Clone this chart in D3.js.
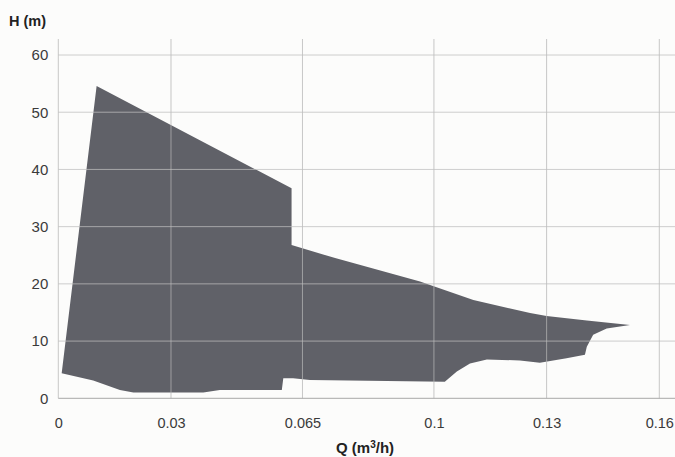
<!DOCTYPE html>
<html>
<head>
<meta charset="utf-8">
<script src="https://cdn.jsdelivr.net/npm/d3@7"></script>
<style>
  html, body { margin: 0; padding: 0; background: #fcfcfb; }
  svg { display: block; font-family: "Liberation Sans", Arial, sans-serif; }
</style>
</head>
<body>
<div id="chart"></div>
<script>
// Contorno del campo de trabajo (Q en m3/h, H en m), leído de la figura
// borde superior, de izquierda a derecha
const upperQ = [0.0009, 0.0102, 0.0621, 0.0621, 0.0737, 0.0963, 0.1105, 0.1256, 0.130, 0.1407, 0.1522];
const upperH = [4.4, 54.6, 36.7, 26.8, 24.5, 20.4, 17.2, 14.9, 14.4, 13.6, 12.8];
// borde inferior, de derecha a izquierda
const lowerQ = [0.146, 0.1424, 0.1407, 0.1402, 0.1353, 0.1282, 0.1229, 0.1141, 0.1096, 0.1061, 0.1029, 0.067, 0.0625, 0.0599, 0.0595, 0.043, 0.0386, 0.020, 0.0164, 0.0093];
const lowerH = [12.2, 11.1, 9.0, 7.6, 7.0, 6.2, 6.6, 6.8, 6.1, 4.7, 2.9, 3.2, 3.5, 3.5, 1.45, 1.45, 1.0, 1.0, 1.45, 3.1];

const xTicks = [0, 0.03, 0.065, 0.1, 0.13, 0.16];
const yTicks = [0, 10, 20, 30, 40, 50, 60];

const W = 675, H = 457;
const mLeft = 58.3, mRight = 659.3, mBottom = 398.3, mTop = 55;

const svg = d3.select("#chart").append("svg")
    .attr("width", W)
    .attr("height", H);

const x = d3.scaleLinear().domain([0, 0.16]).range([mLeft, mRight]);
const y = d3.scaleLinear().domain([0, 60]).range([mBottom, mTop]);

// puntos del polígono
const points = upperQ.map((q, i) => [q, upperH[i]])
    .concat(lowerQ.map((q, i) => [q, lowerH[i]]));

const line = d3.line()
    .x(d => x(d[0]))
    .y(d => y(d[1]))
    .curve(d3.curveLinearClosed);

svg.append("path")
    .datum(points)
    .attr("d", line)
    .attr("fill", "#606168");

// Rejilla (encima del área, como en el original)
const grid = svg.append("g").attr("class", "grid");

grid.selectAll(".vline")
    .data(xTicks)
    .enter().append("line")
    .attr("x1", d => x(d)).attr("x2", d => x(d))
    .attr("y1", 39).attr("y2", mBottom)
    .attr("stroke", "#b4b4b4")
    .attr("stroke-opacity", 0.75)
    .attr("stroke-width", 1);

grid.selectAll(".hline")
    .data(yTicks.filter(d => d > 0))
    .enter().append("line")
    .attr("x1", mLeft).attr("x2", W)
    .attr("y1", d => y(d)).attr("y2", d => y(d))
    .attr("stroke", "#bdbdbd")
    .attr("stroke-opacity", 0.75)
    .attr("stroke-width", 1);

// línea base
svg.append("line")
    .attr("x1", mLeft).attr("x2", W)
    .attr("y1", mBottom).attr("y2", mBottom)
    .attr("stroke", "#a8a8a8");

// Eje X
const xAxis = svg.append("g")
    .attr("transform", `translate(0,${mBottom})`)
    .call(d3.axisBottom(x).tickValues(xTicks).tickSize(0).tickPadding(0).tickFormat(d => String(d)));
xAxis.select(".domain").remove();
xAxis.selectAll("text")
    .attr("dy", null)
    .attr("y", 30)
    .attr("fill", "#3a3a3a")
    .style("font-size", "14.5px");

// Eje Y
const yAxis = svg.append("g")
    .attr("transform", `translate(${mLeft},0)`)
    .call(d3.axisLeft(y).tickValues(yTicks).tickSize(0).tickPadding(10));
yAxis.select(".domain").remove();
yAxis.selectAll("text")
    .attr("fill", "#3a3a3a")
    .style("font-size", "15px");

// Títulos de los ejes
svg.append("text")
    .attr("x", 9)
    .attr("y", 26)
    .attr("fill", "#222")
    .style("font-size", "14.5px")
    .style("font-weight", "bold")
    .text("H (m)");

const qLabel = svg.append("text")
    .attr("x", 336)
    .attr("y", 453)
    .attr("fill", "#222")
    .style("font-size", "15px")
    .style("font-weight", "bold");
qLabel.append("tspan").text("Q (m");
qLabel.append("tspan").attr("dy", -5).style("font-size", "10px").text("3");
qLabel.append("tspan").attr("dy", 5).text("/h)");
</script>
</body>
</html>
